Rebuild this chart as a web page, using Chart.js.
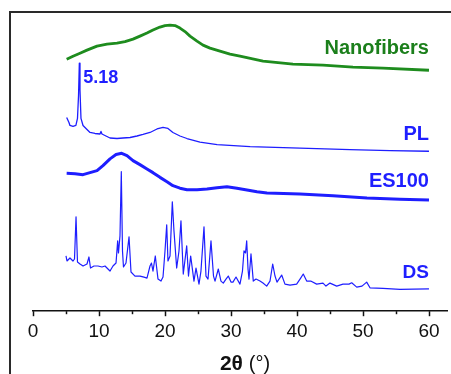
<!DOCTYPE html>
<html>
<head>
<meta charset="utf-8">
<script src="https://cdn.jsdelivr.net/npm/chart.js@4/dist/chart.umd.min.js"></script>
<style>
  html, body { margin: 0; padding: 0; background: #fff; }
  #wrap { width: 451px; height: 374px; position: relative; }
</style>
</head>
<body>
<div id="wrap"><canvas id="xrd"></canvas></div>
<script>
// Patrones XRD (intensidad en unidades arbitrarias, ya desplazadas)
const nfTheta = [5.1, 6.06, 7.12, 8.18, 9.7, 11.21, 12.73, 13.94, 15.15, 16.21, 17.27, 18.18, 19.24, 20.0, 20.76, 21.52, 22.27, 23.03, 23.79, 24.85, 25.76, 26.82, 28.33, 29.85, 31.36, 34.85, 39.39, 43.94, 48.48, 53.03, 60];
const nfInt   = [251, 254, 257, 260, 264, 266, 267, 268.5, 271, 274, 277, 280, 283, 284.5, 285, 284.5, 282, 278.5, 274, 269, 265, 262, 259, 256, 254, 249, 246, 245, 243, 242, 240];

const plTheta = [5.1, 5.45, 5.6, 6.06, 6.5, 6.74, 6.9, 7.02, 7.12, 7.27, 7.58, 8.18, 8.64, 9.39, 10.15, 10.3, 10.45, 10.9, 11.67, 12.73, 13.64, 14.7, 15.76, 16.67, 17.73, 18.79, 19.7, 20.45, 21.2, 22.27, 23.33, 25.3, 27.9, 32.9, 40.45, 48.03, 54.1, 60];
const plInt   = [193, 188, 185, 184, 185, 192, 215, 247, 220, 192, 185, 181, 178, 177, 176.5, 179, 176.5, 175, 172.5, 172, 172.5, 173, 174.5, 176, 178, 181.5, 183, 182, 178, 174.5, 172, 168.5, 166, 164, 162.5, 161, 160, 159.3];

const esTheta = [5.1, 6.36, 7.58, 8.64, 9.7, 10.6, 11.67, 12.58, 13.44, 14.24, 15.15, 16.2, 17.27, 18.18, 19.24, 20.3, 21.2, 22.27, 23.33, 24.85, 26.36, 27.88, 29.39, 30.9, 32.42, 33.94, 35.45, 40.45, 45.45, 50.6, 55.6, 60];
const esInt   = [137.3, 137, 136, 138, 140, 145, 151.7, 156, 157.3, 155, 150, 146, 141.7, 138, 133.3, 129, 125, 122.5, 121, 121, 121.7, 123, 124, 122.5, 120.7, 119, 117.7, 116.7, 115, 112.7, 111.5, 110.7];

const dsTheta = [5.0, 5.15, 5.6, 6.06, 6.29, 6.52, 6.74, 7.12, 7.58, 8.18, 8.48, 8.71, 9.24, 9.85, 10.45, 10.91, 11.36, 11.67, 12.12, 12.58, 12.83, 12.95, 13.18, 13.38, 13.56, 13.71, 14.09, 14.55, 14.85, 15.45, 16.21, 16.82, 17.27, 17.73, 17.95, 18.18, 18.53, 18.94, 19.39, 19.7, 20.0, 20.26, 20.45, 20.76, 21.11, 21.36, 21.77, 22.12, 22.42, 22.77, 23.29, 23.56, 23.89, 24.39, 24.7, 25.15, 25.45, 25.91, 26.21, 26.52, 26.97, 27.35, 27.58, 28.08, 28.48, 28.83, 29.24, 29.59, 30.0, 30.3, 30.76, 31.36, 31.74, 31.97, 32.2, 32.38, 32.58, 32.73, 33.03, 33.38, 33.79, 34.39, 34.85, 35.41, 35.91, 36.32, 36.67, 36.97, 37.68, 38.18, 38.94, 39.95, 40.56, 40.95, 41.47, 42.08, 42.98, 43.94, 44.39, 45.0, 46.02, 46.97, 47.88, 48.29, 49.05, 49.85, 50.56, 51.06, 53.03, 55.61, 57.73, 60];
const dsInt   = [55, 50, 53, 50, 52, 94, 49, 47, 45, 47, 54, 43, 45, 45, 44, 45, 42, 40, 45, 48, 70, 58, 75, 139, 60, 44, 48, 74, 39, 35, 35, 34, 33, 45, 48, 40, 55, 32, 30, 34, 60, 86, 50, 55, 109, 80, 43, 60, 90, 37, 65, 35, 55, 30, 43, 27, 40, 84, 35, 32, 70, 35, 30, 42, 30, 28, 32, 35, 29, 29, 34, 27, 40, 60, 58, 70, 42, 32, 57, 30, 32, 30, 28, 25, 30, 47, 35, 29, 36, 27, 26, 27, 33, 37, 30, 30, 27, 28, 25, 28, 25, 27, 27, 28.3, 24, 25, 29, 23.3, 22.7, 21.7, 22, 22.3];

const xTickValues = [0, 10, 20, 30, 40, 50, 60];
const xMinorValues = [5, 15, 25, 35, 45, 55];

// Etiquetas de cada curva: texto, 2θ, intensidad, alineación
const curveLabels = [
  { text: 'Nanofibers', x: 60, y: 262, align: 'right', color: '#1b7f1b', size: 20 },
  { text: '5.18', x: 7.6, y: 232, align: 'left', color: '#1f1fff', size: 18 },
  { text: 'PL', x: 60, y: 176, align: 'right', color: '#1f1fff', size: 20 },
  { text: 'ES100', x: 60, y: 129, align: 'right', color: '#1f1fff', size: 20 },
  { text: 'DS', x: 60, y: 38, align: 'right', color: '#1f1fff', size: 19 }
];

const COLOR_VERDE = 'rgb(30, 140, 30)';
const COLOR_AZUL = 'rgb(30, 30, 255)';

function pares(xs, ys) {
  return xs.map((x, i) => ({ x: x, y: ys[i] }));
}

// Marco, ticks menores/mayores, título del eje y etiquetas
const extrasPlugin = {
  id: 'extras',
  afterDraw(chart) {
    const ctx = chart.ctx;
    const xs = chart.scales.x;
    const ys = chart.scales.y;
    const bottom = chart.chartArea.bottom;
    ctx.save();

    // marco (recortado en la imagen original)
    ctx.strokeStyle = '#2a2a2a';
    ctx.lineWidth = 2;
    ctx.beginPath();
    ctx.moveTo(10, chart.height);
    ctx.lineTo(10, 12);
    ctx.lineTo(chart.width, 12);
    ctx.stroke();

    // ticks hacia abajo
    ctx.strokeStyle = '#111';
    ctx.lineWidth = 1.5;
    xTickValues.forEach(v => {
      const px = Math.round(xs.getPixelForValue(v)) + 0.5;
      ctx.beginPath();
      ctx.moveTo(px, bottom);
      ctx.lineTo(px, bottom + 5);
      ctx.stroke();
    });
    xMinorValues.forEach(v => {
      const px = Math.round(xs.getPixelForValue(v)) + 0.5;
      ctx.beginPath();
      ctx.moveTo(px, bottom);
      ctx.lineTo(px, bottom + 3);
      ctx.stroke();
    });

    // título del eje: "2θ" en negrita + "(°)"
    ctx.fillStyle = '#111';
    ctx.textBaseline = 'middle';
    const t1 = '2θ ';
    const t2 = '(°)';
    ctx.font = 'bold 21px "Liberation Sans", Arial, sans-serif';
    const w1 = ctx.measureText(t1).width;
    ctx.font = '20px "Liberation Sans", Arial, sans-serif';
    const w2 = ctx.measureText(t2).width;
    const cx = 245;
    const ty = bottom + 53;
    ctx.textAlign = 'left';
    ctx.font = 'bold 21px "Liberation Sans", Arial, sans-serif';
    ctx.fillText(t1, cx - (w1 + w2) / 2, ty);
    ctx.font = '20px "Liberation Sans", Arial, sans-serif';
    ctx.fillText(t2, cx - (w1 + w2) / 2 + w1, ty);

    // etiquetas de las curvas
    curveLabels.forEach(l => {
      ctx.font = 'bold ' + l.size + 'px "Liberation Sans", Arial, sans-serif';
      ctx.fillStyle = l.color;
      ctx.textAlign = l.align;
      ctx.fillText(l.text, xs.getPixelForValue(l.x), ys.getPixelForValue(l.y));
    });
    ctx.restore();
  }
};

new Chart(document.getElementById('xrd'), {
  type: 'line',
  data: {
    datasets: [
      { label: 'Nanofibers', data: pares(nfTheta, nfInt), borderColor: COLOR_VERDE, borderWidth: 2.8 },
      { label: 'PL', data: pares(plTheta, plInt), borderColor: COLOR_AZUL, borderWidth: 1.3 },
      { label: 'ES100', data: pares(esTheta, esInt), borderColor: COLOR_AZUL, borderWidth: 3 },
      { label: 'DS', data: pares(dsTheta, dsInt), borderColor: COLOR_AZUL, borderWidth: 1.2 }
    ]
  },
  options: {
    animation: false,
    responsive: true,
    maintainAspectRatio: false,
    layout: { padding: { left: 33, right: 4, top: 12, bottom: 22 } },
    elements: {
      point: { radius: 0 },
      line: { tension: 0, borderJoinStyle: 'round', fill: false }
    },
    plugins: {
      legend: { display: false },
      tooltip: { enabled: false }
    },
    scales: {
      x: {
        type: 'linear',
        min: 0,
        max: 62.73,
        afterBuildTicks: (scale) => { scale.ticks = xTickValues.map(v => ({ value: v })); },
        grid: { display: true, drawOnChartArea: false, drawTicks: false },
        border: { display: true, color: '#111', width: 1.5 },
        ticks: {
          padding: 9,
          color: '#111',
          maxRotation: 0,
          font: { family: '"Liberation Sans", Arial, sans-serif', size: 19 }
        }
      },
      y: {
        display: false,
        min: 0,
        max: 298
      }
    }
  },
  plugins: [extrasPlugin]
});
</script>
</body>
</html>
